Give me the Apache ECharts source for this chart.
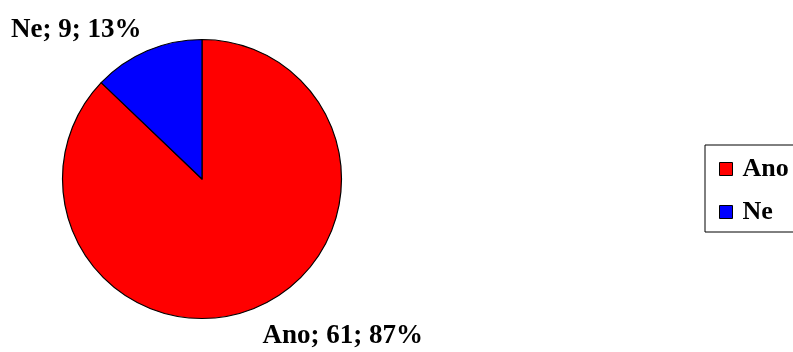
<!DOCTYPE html>
<html>
<head>
<meta charset="utf-8">
<script src="https://cdn.jsdelivr.net/npm/echarts@6/dist/echarts.min.js"></script>
<style>
html,body{margin:0;padding:0;background:#fff;}
#chart{width:793px;height:352px;}
</style>
</head>
<body>
<div id="chart"></div>
<script>
var categories = ['Ano', 'Ne'];
var values = [61, 9];
var colors = ['#FF0000', '#0000FF'];

var total = values.reduce(function(a, b){ return a + b; }, 0);
var data = categories.map(function(c, i){
  return { name: c, value: values[i], itemStyle: { color: colors[i] } };
});
var font = "'Times New Roman', 'Liberation Serif', serif";

var chart = echarts.init(document.getElementById('chart'), null, {renderer: 'canvas'});
chart.setOption({
  animation: false,
  backgroundColor: '#ffffff',
  legend: {
    orient: 'vertical',
    left: 705,
    top: 145,
    padding: [11, 12, 7, 14],
    itemGap: 17,
    itemWidth: 13,
    itemHeight: 13,
    icon: 'rect',
    borderColor: '#000',
    borderWidth: 1,
    backgroundColor: '#fff',
    itemStyle: { borderColor: '#000', borderWidth: 1 },
    textStyle: {
      fontFamily: font, fontWeight: 'bold', fontSize: 26, color: '#000',
      lineHeight: 26, padding: [0, 0, 0, 5]
    },
    data: categories
  },
  series: [{
    type: 'pie',
    center: [202, 179],
    radius: [0, 139.5],
    startAngle: 90,
    clockwise: true,
    avoidLabelOverlap: false,
    itemStyle: { borderColor: '#000', borderWidth: 1.2 },
    emphasis: { disabled: true },
    label: {
      show: true,
      position: 'outside',
      distanceToLabelLine: -5,
      fontFamily: font, fontWeight: 'bold', fontSize: 27, color: '#000',
      formatter: function(p){
        return p.name + '; ' + p.value + '; ' + Math.round(p.value / total * 100) + '%';
      }
    },
    labelLayout: { dy: 4 },
    labelLine: { show: false, length: 27, length2: 0 },
    data: data
  }]
});
</script>
</body>
</html>
